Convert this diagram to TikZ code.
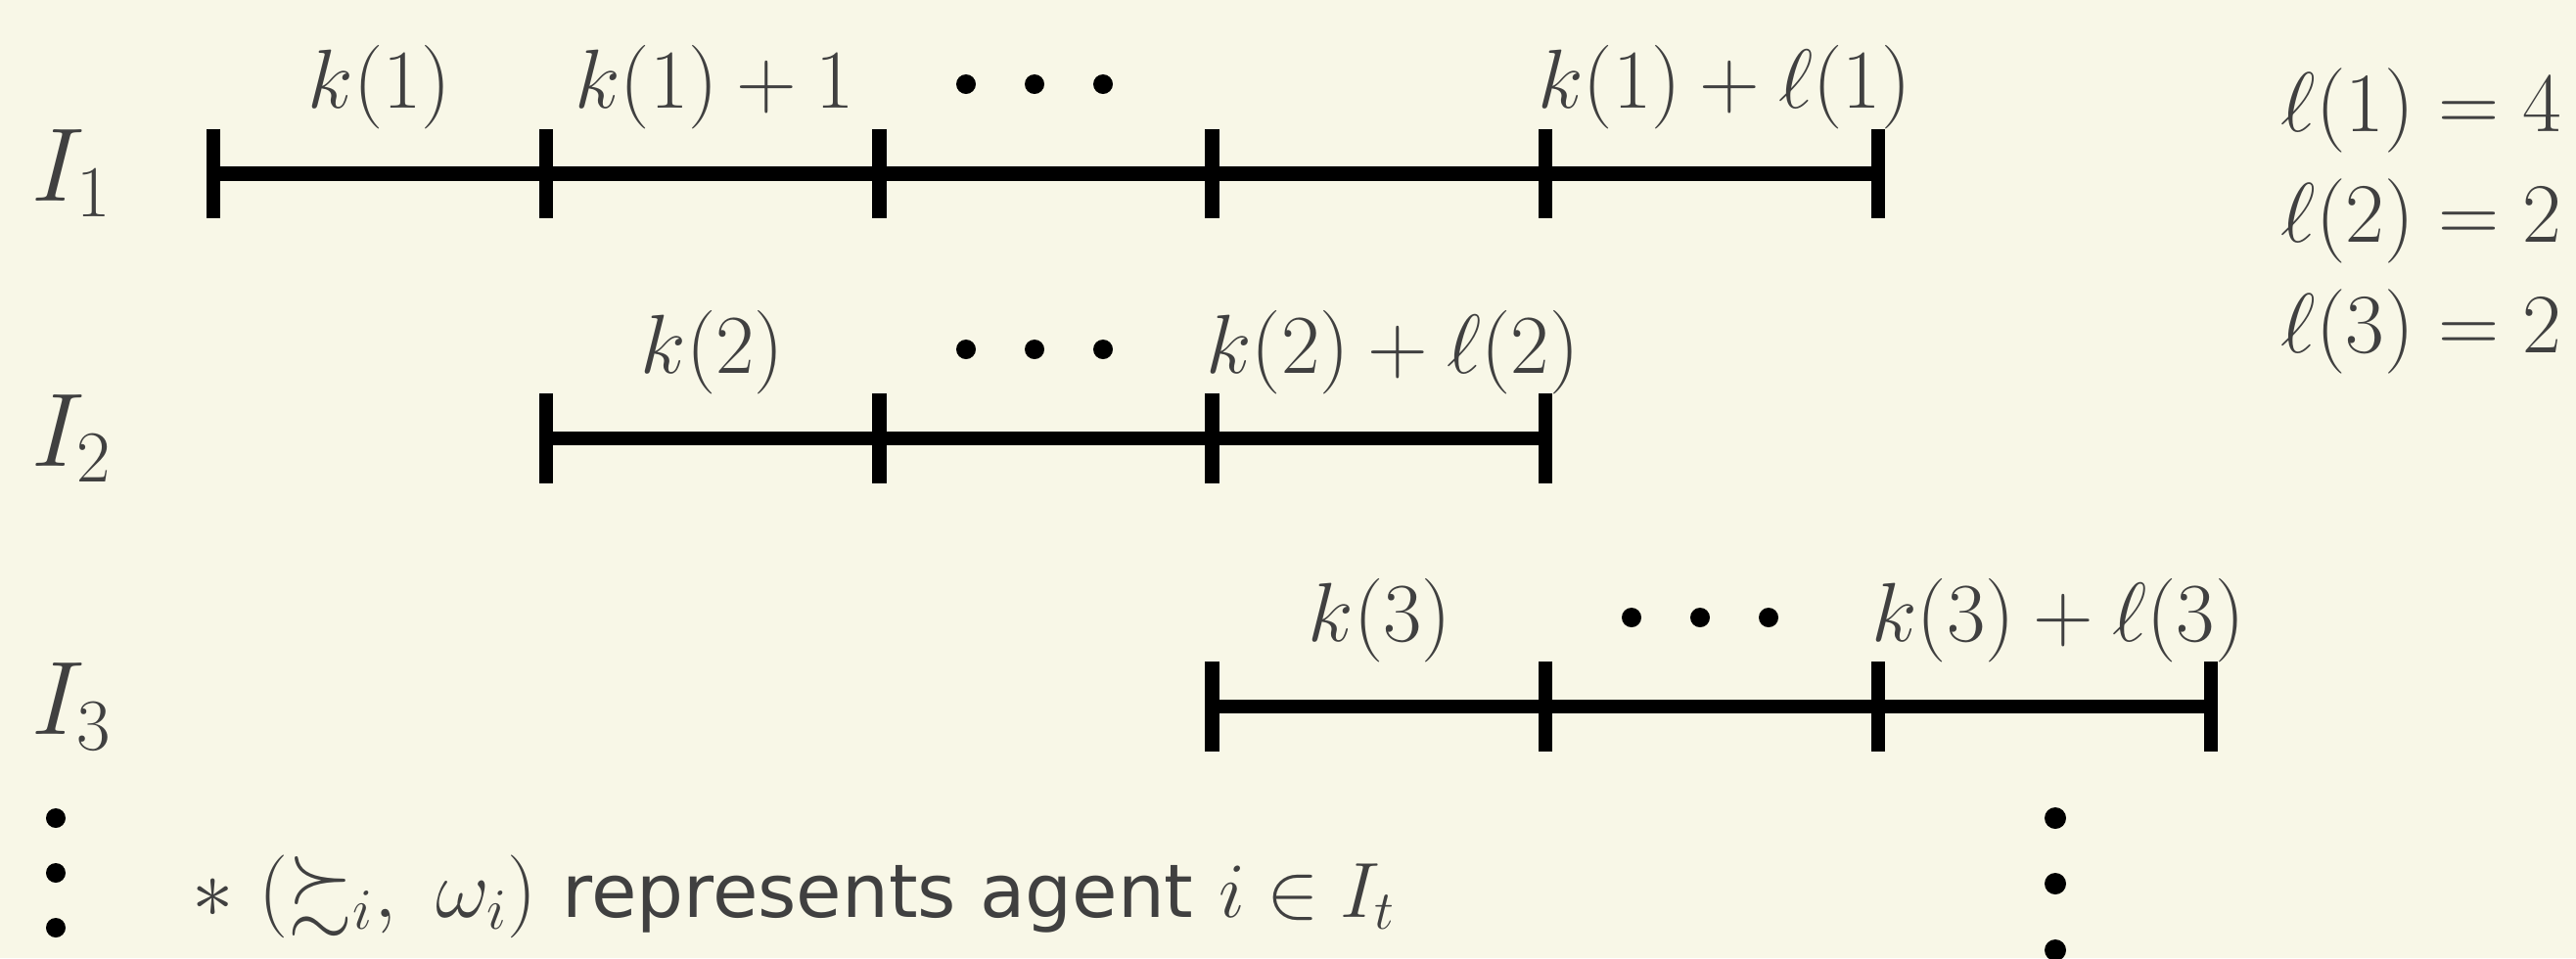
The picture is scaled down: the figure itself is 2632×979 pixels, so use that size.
\RequirePackage{fix-cm}
\documentclass[tikz,border=0pt]{standalone}
\usepackage{amsmath,amssymb}
\usepackage{fontspec}
\newfontfamily\dejavu{DejaVu Sans}
\definecolor{bg}{HTML}{F8F7E7}
\definecolor{ink}{HTML}{404040}
\begin{document}
\begin{tikzpicture}[x=0.25pt,y=-0.25pt,
  seg/.style={line width=3.7pt,line cap=butt},
  tickmark/.style={line width=3.6pt,line cap=butt},
  lab/.style={text=ink,inner sep=0pt,anchor=base,font=\fontsize{21.4}{25}\selectfont},
  rowlab/.style={text=ink,inner sep=0pt,anchor=base west,font=\fontsize{26.7}{30}\selectfont},
  ellab/.style={text=ink,inner sep=0pt,anchor=base west,font=\fontsize{21.6}{25}\selectfont},
  hdot/.style={circle,fill=black,inner sep=0pt,minimum size=5pt},
  vdot/.style={circle,fill=black,inner sep=0pt,minimum size=5.5pt},
]
\fill[bg] (0,0) rectangle (2632,979);
\useasboundingbox (0,0) rectangle (2632,979);

% tick coordinates
\foreach \r/\y in {1/177.5, 2/448, 3/722}{
  \foreach \i in {0,...,6}{
    \coordinate (t\r-\i) at ({218+340.2*\i},\y);
  }
}
% segments
\draw[seg] (t1-0) -- (t1-5);
\draw[seg] (t2-1) -- (t2-4);
\draw[seg] (t3-3) -- (t3-6);
% ticks
\foreach \i in {0,...,5}{\draw[tickmark] ([yshift=11.4pt]t1-\i) -- ([yshift=-11.4pt]t1-\i);}
\foreach \i in {1,...,4}{\draw[tickmark] ([yshift=11.4pt]t2-\i) -- ([yshift=-11.4pt]t2-\i);}
\foreach \i in {3,...,6}{\draw[tickmark] ([yshift=11.4pt]t3-\i) -- ([yshift=-11.4pt]t3-\i);}

% row labels
\node[rowlab] (I1) at (32,205) {$I_1$};
\node[rowlab] (I2) at (32,476) {$I_2$};
\node[rowlab] (I3) at (32,750) {$I_3$};

% segment labels
\node[lab] (k1) at (388,110.5) {$k(1)$};
\node[lab] (k1p) at (730,110.5) {$k(1)+1$};
\node[lab] (k1l) at (1762,110.5) {$k(1)+\ell(1)$};
\node[lab] (k2) at (728,381) {$k(2)$};
\node[lab] (k2l) at (1423,381) {$k(2)+\ell(2)$};
\node[lab] (k3) at (1410,655) {$k(3)$};
\node[lab] (k3l) at (2103,655) {$k(3)+\ell(3)$};

% horizontal dots
\foreach \x [count=\n] in {987,1057,1127}{
  \node[hdot] (da\n) at (\x,86) {};
  \node[hdot] (db\n) at (\x,357) {};
  \node[hdot] (dc\n) at ({\x+680},631) {};
}

% vertical dots
\foreach \y [count=\n] in {836,892,948}{\node[vdot,minimum size=5pt] (vl\n) at (57,\y) {};}
\foreach \y [count=\n] in {836,903,971}{\node[vdot] (vr\n) at (2100,\y) {};}

% ell values
\node[ellab] (l1) at (2330,134) {$\ell(1)=4$};
\node[ellab] (l2) at (2330,247) {$\ell(2)=2$};
\node[ellab] (l3) at (2330,360) {$\ell(3)=2$};

% footnote
\node[text=ink,inner sep=0pt,anchor=base west,font=\fontsize{21.2}{25}\selectfont] (note) at (196,937)
  {$*$ $(\succsim_i,\ \omega_i)$ {\dejavu\fontsize{18.9}{22}\selectfont represents agent} {\fontsize{20}{24}\selectfont$i\in I_t$}};
\end{tikzpicture}
\end{document}
